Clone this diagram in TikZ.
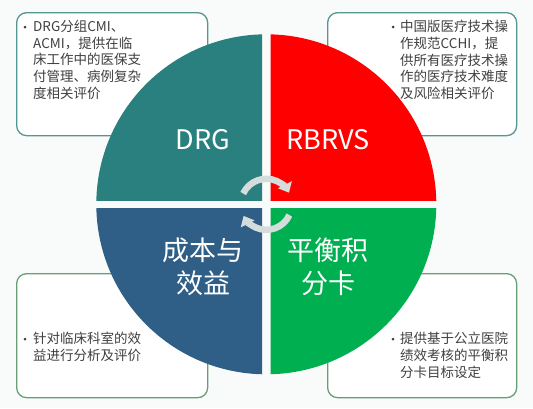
\documentclass[tikz,border=0pt]{standalone}
\usepackage{fontspec}
\setmainfont{Noto Sans CJK SC}
\usetikzlibrary{arrows.meta, positioning, calc}
\definecolor{drgteal}{RGB}{42,127,127}
\definecolor{rbred}{RGB}{255,0,0}
\definecolor{costblue}{RGB}{47,94,135}
\definecolor{bscgreen}{RGB}{0,176,80}
\definecolor{pagebg}{RGB}{249,251,251}
\definecolor{tealline}{RGB}{84,150,146}
\definecolor{greenline}{RGB}{104,158,118}
\definecolor{bodytext}{RGB}{64,64,64}
\definecolor{cyclegray}{RGB}{212,220,220}

\begin{document}
\begin{tikzpicture}[
  x=1bp, y=-1bp,
  note/.style={draw, line width=1.3bp, fill=white, rounded corners=10bp, anchor=north west, inner sep=0pt},
  notetext/.style={anchor=north west, align=left, inner sep=0pt, text=bodytext, font=\fontsize{13.5bp}{16.7bp}\selectfont},
  dot/.style={circle, fill=bodytext, inner sep=0pt, minimum size=3bp},
  quadlabel/.style={text=white, align=center, inner sep=0pt, font=\fontsize{27bp}{33bp}\selectfont},
  cycle/.style={line width=6.5bp, draw=cyclegray, -{Triangle[length=9bp,width=15bp]}}
]

% page
\fill[pagebg] (0,0) rectangle (533,408);
\useasboundingbox (0,0) rectangle (533,408);

% Note boxes behind the circle
\node[note, draw=tealline, minimum width=191bp, minimum height=123bp] (tl box) at (16,12) {};
\node[note, draw=tealline, minimum width=189bp, minimum height=123bp] (tr box) at (327,12) {};
\node[note, draw=greenline, minimum width=191bp, minimum height=124bp] (bl box) at (16,273) {};
\node[note, draw=greenline, minimum width=189bp, minimum height=124bp] (br box) at (327,273) {};

% Four quadrants
\coordinate (hub) at (266.3,204.3);
\foreach \sx/\sy/\col in {-1/-1/drgteal, 1/-1/rbred, -1/1/costblue, 1/1/bscgreen} {
  \begin{scope}
    \clip ($(hub)+(\sx*4.2,\sy*4.2)$) rectangle ($(hub)+(\sx*180,\sy*180)$);
    \fill[\col] (hub) circle (170);
  \end{scope}
}

% Quadrant labels
\node[quadlabel] (drg) at (203,140) {DRG};
\node[quadlabel] (rbrvs) at (328,140) {RBRVS};
\node[quadlabel] (cost) at (203,266.5) {成本与\\效益};
\node[quadlabel] (bsc) at (328,266.5) {平衡积\\分卡};

% Cycle arrows
\draw[cycle] ($(hub)+(-155:25.5)$) arc[start angle=-155, end angle=-27, radius=25.5];
\draw[cycle] ($(hub)+(25:25.5)$) arc[start angle=25, end angle=153, radius=25.5];

% Notes
\node[notetext] (tl text) at (33,20) {DRG分组CMI、\\ACMI，提供在临\\床工作中的医保支\\付管理、病例复杂\\度相关评价};
\node[dot] (tl dot) at (25,27) {};
\node[notetext] (tr text) at (400,20) {中国版医疗技术操\\作规范CCHI，提\\供所有医疗技术操\\作的医疗技术难度\\及风险相关评价};
\node[dot] (tr dot) at (393,27) {};
\node[notetext] (bl text) at (33,332) {针对临床科室的效\\益进行分析及评价};
\node[dot] (bl dot) at (25,339) {};
\node[notetext] (br text) at (400,332) {提供基于公立医院\\绩效考核的平衡积\\分卡目标设定};
\node[dot] (br dot) at (393,339) {};

\end{tikzpicture}
\end{document}
